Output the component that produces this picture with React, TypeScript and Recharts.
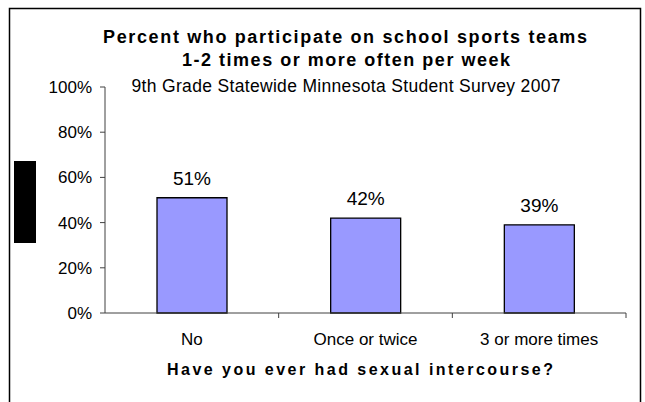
import { BarChart, Bar, XAxis, YAxis, LabelList } from "recharts";

const categories = ["No", "Once or twice", "3 or more times"];
const percents = [0.51, 0.42, 0.39];
const yTicks = [0, 0.2, 0.4, 0.6, 0.8, 1];
const titleLines = ["Percent who participate on school sports teams", "1-2 times or more often per week"];
const subtitle = "9th Grade Statewide Minnesota Student Survey 2007";
const xTitle = "Have you ever had sexual intercourse?";

const W = 645;
const H = 402;
const plot = { left: 105, right: 626, top: 87, bottom: 313 };
const band = (plot.right - plot.left) / categories.length;
const font = "'Liberation Sans', Arial, sans-serif";

const data = categories.map((name, i) => ({ name, value: percents[i] }));

function CategoryTick(props: any) {
  const { x, y, payload } = props;
  return (
    <g>
      <line x1={x + band / 2} x2={x + band / 2} y1={y} y2={y + 5} stroke="#404040" />
      <text x={x} y={y + 32} textAnchor="middle" fontSize={17} fontFamily={font} fill="#000">
        {payload.value}
      </text>
    </g>
  );
}

export default function App() {
  return (
    <div style={{ position: "absolute", left: 0, top: 0, width: W, height: H, background: "#fff", fontFamily: font }}>
      <BarChart
        width={W}
        height={H}
        data={data}
        margin={{ top: plot.top, right: W - plot.right, bottom: H - plot.bottom - 60, left: plot.left - 60 }}
      >
        <YAxis
          width={60}
          domain={[0, 1]}
          ticks={yTicks}
          tickFormatter={(v: number) => `${Math.round(v * 100)}%`}
          tickSize={5}
          tickMargin={8}
          stroke="#404040"
          tick={{ fill: "#000", fontSize: 17, fontFamily: font }}
        />
        <XAxis
          dataKey="name"
          height={60}
          tickLine={false}
          tickSize={0}
          tickMargin={0}
          stroke="#404040"
          interval={0}
          tick={<CategoryTick />}
        />
        <Bar dataKey="value" fill="#9999FF" stroke="#000" strokeWidth={1.3} barSize={70} isAnimationActive={false}>
          <LabelList
            dataKey="value"
            position="top"
            offset={13}
            formatter={(v: any) => `${Math.round(Number(v) * 100)}%`}
            style={{ fill: "#000", fontSize: 19, fontFamily: font }}
          />
        </Bar>
      </BarChart>
      <svg width={W} height={H} style={{ position: "absolute", left: 0, top: 0, pointerEvents: "none" }} fontFamily={font}>
        <path d={`M9.5 ${H} V8.5 H640.5 V${H}`} fill="none" stroke="#000" strokeWidth={1.5} />
        <rect x={14} y={161} width={22} height={82} fill="#000" />
        <text x={345} y={42.5} textAnchor="middle" fontSize={18} fontWeight="bold" textLength={484} lengthAdjust="spacing" fill="#000">
          {titleLines[0]}
        </text>
        <text x={346} y={66} textAnchor="middle" fontSize={18} fontWeight="bold" textLength={328} lengthAdjust="spacing" fill="#000">
          {titleLines[1]}
        </text>
        <text x={346} y={91.5} textAnchor="middle" fontSize={17.5} textLength={429} lengthAdjust="spacing" fill="#000">
          {subtitle}
        </text>
        <text x={360} y={375} textAnchor="middle" fontSize={16} fontWeight="bold" textLength={386} lengthAdjust="spacing" fill="#000">
          {xTitle}
        </text>
      </svg>
    </div>
  );
}
